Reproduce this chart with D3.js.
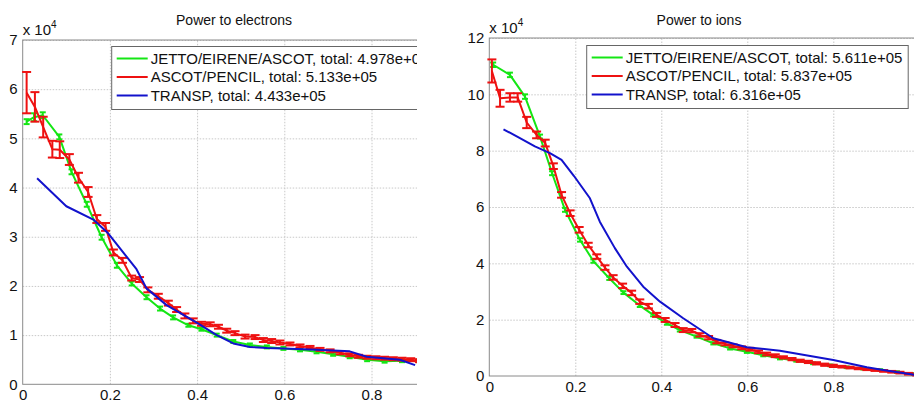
<!DOCTYPE html>
<html>
<head>
<meta charset="utf-8">
<script src="https://cdn.jsdelivr.net/npm/d3@7/dist/d3.min.js"></script>
<style>
  body { margin: 0; background: #fff; }
  svg { display: block; font-family: "Liberation Sans", Arial, sans-serif; }
</style>
</head>
<body>
<svg id="chart" width="914" height="403"></svg>
<script>
// values are in units of 1e4, x is normalised radius
const xTicks = [0, 0.2, 0.4, 0.6, 0.8, 1];
const xLabels = [0, 0.2, 0.4, 0.6, 0.8];
const eTicks = [0, 1, 2, 3, 4, 5, 6, 7];
const iTicks = [0, 2, 4, 6, 8, 10, 12];

const seriesNames = ["JETTO/EIRENE/ASCOT", "ASCOT/PENCIL", "TRANSP"];
const eTotals = ["4.978e+05", "5.133e+05", "4.433e+05"];
const iTotals = ["5.611e+05", "5.837e+05", "6.316e+05"];
const colors = ["#14e614", "#ee1111", "#1212cc"];

// Power to electrons: [x, y, err]
const eJetto = [
  [0.009, 5.34, 0.05], [0.026, 5.43, 0.08], [0.046, 5.47, 0.06], [0.084, 5.03, 0.05],
  [0.112, 4.32, 0.05], [0.147, 3.66, 0.05], [0.181, 2.99, 0.05], [0.216, 2.42, 0.05],
  [0.25, 2.05, 0.04], [0.284, 1.77, 0.04], [0.315, 1.54, 0.04], [0.345, 1.36, 0.04],
  [0.38, 1.2, 0.03], [0.41, 1.12, 0.03], [0.445, 1.0, 0.03], [0.483, 0.87, 0.03],
  [0.521, 0.8, 0.03], [0.56, 0.76, 0.03], [0.598, 0.73, 0.03], [0.636, 0.7, 0.03],
  [0.674, 0.66, 0.03], [0.712, 0.61, 0.03], [0.75, 0.56, 0.03], [0.79, 0.5, 0.03],
  [0.83, 0.47, 0.03], [0.87, 0.48, 0.03], [0.91, 0.48, 0.03]
];
const ePencil = [
  [0.009, 5.93, 0.42], [0.028, 5.64, 0.30], [0.047, 5.23, 0.21], [0.068, 4.78, 0.17],
  [0.085, 4.77, 0.17], [0.107, 4.57, 0.11], [0.128, 4.2, 0.10], [0.15, 3.91, 0.10],
  [0.17, 3.36, 0.08], [0.19, 3.2, 0.08], [0.208, 2.68, 0.06], [0.229, 2.52, 0.05],
  [0.25, 2.16, 0.05], [0.268, 2.13, 0.05], [0.287, 1.92, 0.05], [0.311, 1.79, 0.05],
  [0.334, 1.65, 0.05], [0.353, 1.52, 0.05], [0.372, 1.39, 0.05], [0.391, 1.29, 0.05],
  [0.41, 1.23, 0.04], [0.43, 1.22, 0.04], [0.449, 1.17, 0.04], [0.468, 1.09, 0.04],
  [0.487, 1.04, 0.04], [0.51, 0.97, 0.04], [0.533, 0.96, 0.04], [0.552, 0.9, 0.04],
  [0.571, 0.88, 0.04], [0.59, 0.85, 0.04], [0.613, 0.82, 0.03], [0.636, 0.78, 0.03],
  [0.659, 0.75, 0.03], [0.682, 0.71, 0.03], [0.705, 0.68, 0.03], [0.728, 0.64, 0.03],
  [0.75, 0.6, 0.03], [0.77, 0.57, 0.03], [0.79, 0.55, 0.03], [0.81, 0.54, 0.03],
  [0.83, 0.53, 0.03], [0.85, 0.52, 0.03], [0.87, 0.51, 0.03], [0.89, 0.5, 0.03],
  [0.91, 0.48, 0.03]
];
const eTransp = [
  [0.033, 4.19], [0.1, 3.62], [0.162, 3.35], [0.196, 3.07], [0.235, 2.63], [0.261, 2.34],
  [0.284, 1.95], [0.33, 1.61], [0.4, 1.25], [0.445, 1.0], [0.483, 0.83], [0.521, 0.76],
  [0.56, 0.74], [0.598, 0.73], [0.674, 0.7], [0.75, 0.67], [0.789, 0.56], [0.827, 0.53],
  [0.865, 0.5], [0.9, 0.39]
];

// Power to ions: [x, y, err]
const iJetto = [
  [0.009, 11.05, 0.08], [0.048, 10.69, 0.08], [0.083, 9.92, 0.08], [0.118, 8.5, 0.07],
  [0.146, 7.2, 0.07], [0.176, 5.9, 0.07], [0.211, 4.83, 0.06], [0.242, 4.08, 0.06],
  [0.279, 3.47, 0.06], [0.312, 2.96, 0.05], [0.35, 2.5, 0.05], [0.381, 2.17, 0.05],
  [0.413, 1.87, 0.05], [0.443, 1.63, 0.05], [0.482, 1.4, 0.04], [0.521, 1.16, 0.04],
  [0.56, 0.98, 0.04], [0.599, 0.86, 0.04], [0.637, 0.74, 0.04], [0.676, 0.63, 0.04],
  [0.714, 0.54, 0.03], [0.753, 0.45, 0.03], [0.792, 0.38, 0.03], [0.831, 0.31, 0.03],
  [0.87, 0.26, 0.03], [0.909, 0.21, 0.03], [0.948, 0.14, 0.03], [0.988, 0.07, 0.03]
];
const iPencil = [
  [0.006, 10.83, 0.41], [0.025, 9.86, 0.30], [0.048, 9.89, 0.15], [0.066, 9.89, 0.15],
  [0.087, 9.0, 0.2], [0.11, 8.56, 0.12], [0.13, 8.27, 0.12], [0.149, 7.45, 0.1],
  [0.168, 6.43, 0.1], [0.188, 5.78, 0.1], [0.209, 5.19, 0.1], [0.23, 4.65, 0.08],
  [0.25, 4.24, 0.08], [0.269, 3.85, 0.08], [0.288, 3.5, 0.08], [0.31, 3.2, 0.08],
  [0.331, 2.95, 0.08], [0.35, 2.64, 0.08], [0.37, 2.48, 0.08], [0.389, 2.17, 0.07],
  [0.409, 1.99, 0.07], [0.432, 1.81, 0.07], [0.451, 1.63, 0.07], [0.471, 1.61, 0.06],
  [0.49, 1.46, 0.06], [0.51, 1.36, 0.06], [0.529, 1.22, 0.06], [0.548, 1.14, 0.05],
  [0.567, 1.07, 0.05], [0.587, 1.0, 0.05], [0.606, 0.95, 0.05], [0.626, 0.86, 0.05],
  [0.645, 0.78, 0.05], [0.665, 0.72, 0.05], [0.684, 0.66, 0.04], [0.704, 0.6, 0.04],
  [0.723, 0.54, 0.04], [0.742, 0.5, 0.04], [0.761, 0.45, 0.04], [0.78, 0.4, 0.04],
  [0.8, 0.36, 0.04], [0.82, 0.33, 0.03], [0.839, 0.3, 0.03], [0.858, 0.27, 0.03],
  [0.878, 0.24, 0.03], [0.897, 0.21, 0.03], [0.917, 0.18, 0.03], [0.936, 0.15, 0.03],
  [0.955, 0.12, 0.03], [0.975, 0.08, 0.03], [0.994, 0.05, 0.03]
];
const iTransp = [
  [0.033, 8.76], [0.067, 8.48], [0.106, 8.15], [0.141, 7.91], [0.168, 7.67], [0.197, 7.1],
  [0.234, 6.31], [0.257, 5.48], [0.292, 4.54], [0.32, 3.88], [0.358, 3.17], [0.397, 2.64],
  [0.451, 2.05], [0.521, 1.34], [0.599, 1.02], [0.676, 0.9], [0.753, 0.69], [0.8, 0.57],
  [0.878, 0.31], [0.916, 0.21], [0.988, 0.04]
];

const svg = d3.select("#chart");

// the left panel is cropped on its right side in the source figure
svg.append("defs").append("clipPath").attr("id", "cropLeft")
  .append("rect").attr("x", 0).attr("y", 0).attr("width", 417).attr("height", 403);

function panel(p) {
  const g = svg.append("g").attr("clip-path", p.clip ? `url(#${p.clip})` : null);
  const x = d3.scaleLinear().domain([0, 1]).range([p.x0, p.x1]);
  const y = d3.scaleLinear().domain([0, p.ymax]).range([p.y0, p.y1]);

  // dotted grid
  g.append("g")
    .attr("transform", `translate(0,${p.y0})`)
    .call(d3.axisBottom(x).tickValues(xTicks.slice(1)).tickSize(-(p.y0 - p.y1)).tickFormat(""))
    .call(a => {
      a.select(".domain").remove();
      a.selectAll("line").attr("stroke", "#c8c8c8").attr("stroke-dasharray", "1.5,1.5");
    });
  g.append("g")
    .attr("transform", `translate(${p.x0},0)`)
    .call(d3.axisLeft(y).tickValues(p.ticks.slice(1)).tickSize(-(p.x1 - p.x0)).tickFormat(""))
    .call(a => {
      a.select(".domain").remove();
      a.selectAll("line").attr("stroke", "#c8c8c8").attr("stroke-dasharray", "1.5,1.5");
    });

  // axes box
  g.append("rect")
    .attr("x", p.x0).attr("y", p.y1)
    .attr("width", p.x1 - p.x0).attr("height", p.y0 - p.y1)
    .attr("fill", "none").attr("stroke", "#8a8a8a").attr("stroke-width", 1);

  // tick labels
  g.append("g")
    .attr("transform", `translate(0,${p.y0})`)
    .call(d3.axisBottom(x).tickValues(xLabels).tickSize(0).tickPadding(5).tickFormat(d3.format("~g")))
    .call(a => {
      a.select(".domain").remove();
      a.selectAll("text").attr("font-size", 15).attr("fill", "#111").attr("font-family", null);
    });
  g.append("g")
    .attr("transform", `translate(${p.x0},0)`)
    .call(d3.axisLeft(y).tickValues(p.ticks).tickSize(0).tickPadding(5).tickFormat(d3.format("d")))
    .call(a => {
      a.select(".domain").remove();
      a.selectAll("text").attr("font-size", 15).attr("fill", "#111").attr("font-family", null);
    });

  // exponent label
  const ex = g.append("text").attr("x", p.x0).attr("y", p.y1 - 5)
    .attr("font-size", 15).attr("fill", "#111");
  ex.append("tspan").text("x 10");
  ex.append("tspan").attr("font-size", 10).attr("dy", -7).text("4");

  const line = d3.line().x(d => x(d[0])).y(d => y(d[1]));

  // series with error bars
  p.series.forEach((s, i) => {
    const c = colors[i];
    g.append("path").datum(s).attr("d", line)
      .attr("fill", "none").attr("stroke", c).attr("stroke-width", 2)
      .attr("stroke-linejoin", "round");
    if (s[0].length > 2) {
      const w = p.capW[i];
      const eb = g.append("g").attr("stroke", c).attr("stroke-width", 2);
      eb.selectAll(".v").data(s).join("line")
        .attr("x1", d => x(d[0])).attr("x2", d => x(d[0]))
        .attr("y1", d => y(d[1] - d[2])).attr("y2", d => y(d[1] + d[2]));
      eb.selectAll(".t").data(s).join("line")
        .attr("x1", d => x(d[0]) - w / 2).attr("x2", d => x(d[0]) + w / 2)
        .attr("y1", d => y(d[1] + d[2])).attr("y2", d => y(d[1] + d[2]));
      eb.selectAll(".b").data(s).join("line")
        .attr("x1", d => x(d[0]) - w / 2).attr("x2", d => x(d[0]) + w / 2)
        .attr("y1", d => y(d[1] - d[2])).attr("y2", d => y(d[1] - d[2]));
    }
  });

  // legend
  const lg = g.append("g").attr("transform", `translate(${p.lx},${p.ly})`);
  lg.append("rect").attr("width", p.lw).attr("height", 63)
    .attr("fill", "#fff").attr("stroke", "#666").attr("stroke-width", 1);
  seriesNames.forEach((n, i) => {
    const yy = 12 + i * 18.5;
    lg.append("line").attr("x1", 5).attr("x2", 36).attr("y1", yy).attr("y2", yy)
      .attr("stroke", colors[i]).attr("stroke-width", 2);
    lg.append("text").attr("x", 39).attr("y", yy).attr("dy", "0.36em")
      .attr("font-size", 15).attr("fill", "#111")
      .text(`${n}, total: ${p.totals[i]}`);
  });

  // title
  svg.append("text").attr("x", p.tx).attr("y", 25)
    .attr("text-anchor", "middle").attr("font-size", 14).attr("fill", "#111")
    .text(p.title);
}

panel({
  title: "Power to electrons", tx: 234, clip: "cropLeft",
  x0: 22.7, x1: 458.7, y0: 384.3, y1: 40, ymax: 7, ticks: eTicks,
  series: [eJetto, ePencil, eTransp], capW: [6, 9, 0],
  totals: eTotals, lx: 111.7, ly: 46.5, lw: 330
});

panel({
  title: "Power to ions", tx: 699, clip: null,
  x0: 489.3, x1: 919.3, y0: 376, y1: 38, ymax: 12, ticks: iTicks,
  series: [iJetto, iPencil, iTransp], capW: [6, 9, 0],
  totals: iTotals, lx: 586.7, ly: 45.5, lw: 321.5
});
</script>
</body>
</html>
